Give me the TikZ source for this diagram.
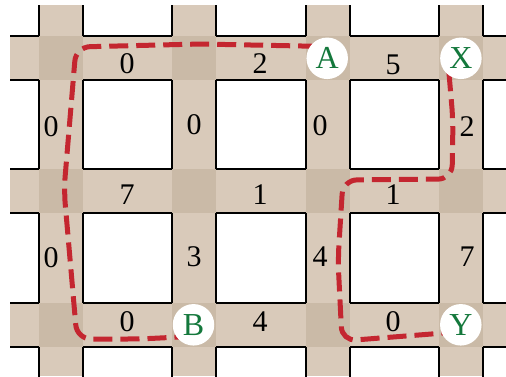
\documentclass[tikz,border=0pt]{standalone}
\usepackage{fontspec}
\setmainfont{Liberation Serif}
\usetikzlibrary{calc}
\definecolor{street}{RGB}{217,202,186}
\definecolor{cross}{RGB}{202,186,167}
\definecolor{routered}{RGB}{196,38,48}
\definecolor{labgreen}{RGB}{20,120,60}
\pgfdeclarelayer{streets}
\pgfdeclarelayer{routes}
\pgfsetlayers{streets,routes,main}
\begin{document}
\begin{tikzpicture}[x=1pt,y=-1pt,
  block/.style={fill=white,draw=black,line width=2pt},
  crossing/.style={fill=cross},
  num/.style={font=\fontsize{30}{31}\selectfont, inner sep=0pt},
  place/.style={circle,fill=white,minimum size=41.5pt,inner sep=0pt,text=labgreen,font=\fontsize{32}{33}\selectfont},
  route/.style={draw=routered,line width=5pt,dash pattern=on 19pt off 8pt,rounded corners=14pt}]
\useasboundingbox (0,0) rectangle (506,376);
\begin{pgfonlayer}{streets}
\begin{scope}
\clip (10,5) rectangle (506,376);
\fill[street] (10,5) rectangle (506,376);
\foreach \i in {-1,...,3} \foreach \j in {-1,...,2} {
  \draw[block] ({60.8+133.4*\i+22},{57.7+133.4*\j+22}) rectangle ({60.8+133.4*(\i+1)-22},{57.7+133.4*(\j+1)-22});
}
\foreach \i in {0,...,3} \foreach \j in {0,...,2} {
  \fill[crossing] ({60.8+133.4*\i-22},{57.7+133.4*\j-22}) rectangle ++(44,44);
}
\end{scope}
\end{pgfonlayer}
% places
\node[place] (A) at (327.2,58.3) {A};
\node[place] (X) at (460.9,58.3) {X};
\node[place] (B) at (193.5,324.8) {B};
\node[place] (Y) at (460.8,324.8) {Y};
% horizontal edge labels
\node[num] (h1) at (127,64) {0};
\node[num] (h2) at (260,64) {2};
\node[num] (h3) at (393,65) {5};
\node[num] (h4) at (127,195) {7};
\node[num] (h5) at (260,195) {1};
\node[num] (h6) at (393,195) {1};
\node[num] (h7) at (127,322) {0};
\node[num] (h8) at (260,322) {4};
\node[num] (h9) at (393,322) {0};
% vertical edge labels
\node[num] (v1) at (51,127) {0};
\node[num] (v2) at (194,125) {0};
\node[num] (v3) at (320,126) {0};
\node[num] (v4) at (467,127) {2};
\node[num] (v5) at (51,258) {0};
\node[num] (v6) at (194,257) {3};
\node[num] (v7) at (320,257) {4};
\node[num] (v8) at (467,257) {7};
% routes
\begin{pgfonlayer}{routes}
\draw[route] ($(A)+(-10,-12)$) -- (200,44) -- (76,47) -- (64,190) -- (77,339) -- (140,339) -- ($(B)+(-10,12)$);
\draw[route] ($(X)+(-12,14)$) -- (453,120) -- (452,179) -- (343,180) -- (338,260) -- (342,341) -- ($(Y)+(-14,8)$);
\end{pgfonlayer}
\end{tikzpicture}
\end{document}
